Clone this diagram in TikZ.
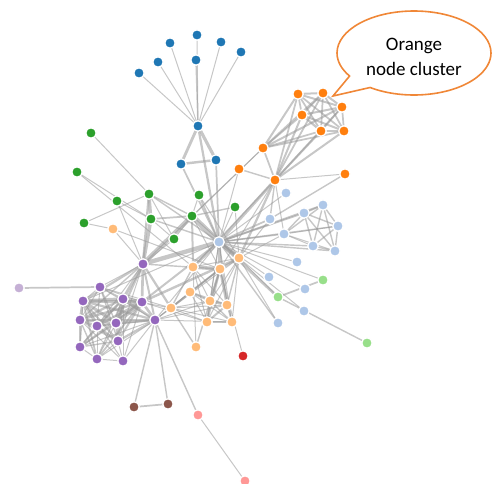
\documentclass[tikz,border=0pt]{standalone}
\usepackage{fontspec}
\newfontfamily\callfont{Carlito}
\usetikzlibrary{backgrounds,shapes.callouts}
\definecolor{cA}{RGB}{31,119,180}
\definecolor{cB}{RGB}{174,199,232}
\definecolor{cC}{RGB}{255,127,14}
\definecolor{cD}{RGB}{255,187,120}
\definecolor{cE}{RGB}{44,160,44}
\definecolor{cF}{RGB}{152,223,138}
\definecolor{cG}{RGB}{214,39,40}
\definecolor{cH}{RGB}{255,152,150}
\definecolor{cI}{RGB}{148,103,189}
\definecolor{cJ}{RGB}{197,176,213}
\definecolor{cK}{RGB}{140,86,75}
\definecolor{linkgray}{RGB}{153,153,153}
\definecolor{bubble}{RGB}{240,135,55}
\tikzset{
  dot/.style={circle, minimum size=10.5pt, inner sep=0pt, draw=white, line width=1.3pt},
  link/.style={draw=linkgray, opacity=0.55},
}
\begin{document}
\begin{tikzpicture}[x=1pt,y=-1pt]
\useasboundingbox (0,0) rectangle (493,483);
% nodes
\foreach \n/\px/\py/\c in {
Myriel/198/126/cA, Napoleon/197/35/cA, MlleBaptistine/181/164/cA, MmeMagloire/216/160/cA,
CountessDeLo/170/43/cA, Geborand/221/42/cA, Champtercier/241/52/cA, Cravatte/158/62/cA,
Count/196/60/cA, OldMan/139/73/cA,
Labarre/286/193/cB, Valjean/219/242/cB, MmeDeR/297/262/cB, Isabeau/269/277/cB, Gervais/305/289/cB,
Bamatabois/284/234/cB, Simplice/270/219/cB, Scaufflaire/304/311/cB, Woman1/278/323/cB,
Judge/304/213/cB, Champmathieu/323/205/cB, Brevet/338/226/cB, Chenildieu/313/246/cB, Cochepaille/335/251/cB,
Marguerite/239/169/cC, Tholomyes/263/148/cC, Listolier/298/94/cC, Fameuil/323/93/cC,
Blacheville/342/107/cC, Favourite/302/115/cC, Dahlia/321/131/cC, Zephine/344/131/cC,
Fantine/275/180/cC, Perpetue/345/174/cC,
MmeThenardier/193/267/cD, Thenardier/220/269/cD, Javert/239/258/cD, Pontmercy/113/229/cD,
Eponine/171/308/cD, Anzelma/196/347/cD, Gueulemer/210/301/cD, Babet/227/305/cD,
Claquesous/207/322/cD, Montparnasse/232/322/cD, Brujon/190/292/cD,
Cosette/192/216/cE, Woman2/199/195/cE, Gillenormand/151/219/cE, Magnon/77/172/cE,
MlleGillenormand/149/194/cE, MmePontmercy/84/223/cE, MlleVaubois/91/133/cE,
LtGillenormand/174/239/cE, BaronessT/117/201/cE, Toussaint/235/207/cE,
Fauchelevent/278/297/cF, MotherInnocent/323/280/cF, Gribier/367/343/cF,
Boulatruelle/243/356/cG,
Jondrette/245/481/cH, MmeBurgon/198/415/cH,
Gavroche/155/320/cI, Marius/143/264/cI, Mabeuf/100/287/cI, Enjolras/142/302/cI,
Combeferre/116/323/cI, Prouvaire/80/347/cI, Feuilly/97/326/cI, Courfeyrac/123/299/cI,
Bahorel/118/341/cI, Bossuet/83/301/cI, Joly/80/320/cI, Grantaire/97/359/cI, MmeHucheloup/123/361/cI,
MotherPlutarch/19/288/cJ,
Child1/134/407/cK, Child2/168/404/cK}
{\node[dot, fill=\c] (\n) at (\px,\py) {};}
% links
\begin{pgfonlayer}{background}
\foreach \s/\t/\v in {
Napoleon/Myriel/1, MlleBaptistine/Myriel/8, MmeMagloire/Myriel/10, MmeMagloire/MlleBaptistine/6,
CountessDeLo/Myriel/1, Geborand/Myriel/1, Champtercier/Myriel/1, Cravatte/Myriel/1, Count/Myriel/2, OldMan/Myriel/1,
Valjean/Labarre/1, Valjean/MmeMagloire/3, Valjean/MlleBaptistine/3, Valjean/Myriel/5, Marguerite/Valjean/1,
MmeDeR/Valjean/1, Isabeau/Valjean/1, Gervais/Valjean/1,
Listolier/Tholomyes/4, Fameuil/Tholomyes/4, Fameuil/Listolier/4, Blacheville/Tholomyes/4, Blacheville/Listolier/4,
Blacheville/Fameuil/4, Favourite/Tholomyes/3, Favourite/Listolier/3, Favourite/Fameuil/3, Favourite/Blacheville/4,
Dahlia/Tholomyes/3, Dahlia/Listolier/3, Dahlia/Fameuil/3, Dahlia/Blacheville/3, Dahlia/Favourite/5,
Zephine/Tholomyes/3, Zephine/Listolier/3, Zephine/Fameuil/3, Zephine/Blacheville/3, Zephine/Favourite/4, Zephine/Dahlia/4,
Fantine/Tholomyes/3, Fantine/Listolier/3, Fantine/Fameuil/3, Fantine/Blacheville/3, Fantine/Favourite/4,
Fantine/Dahlia/4, Fantine/Zephine/4, Fantine/Marguerite/2, Fantine/Valjean/9,
MmeThenardier/Fantine/2, MmeThenardier/Valjean/7, Thenardier/MmeThenardier/13, Thenardier/Fantine/1,
Thenardier/Valjean/12, Cosette/MmeThenardier/4, Cosette/Valjean/31, Cosette/Tholomyes/1, Cosette/Thenardier/1,
Javert/Valjean/17, Javert/Fantine/5, Javert/Thenardier/5, Javert/MmeThenardier/1, Javert/Cosette/1,
Fauchelevent/Valjean/8, Fauchelevent/Javert/1, Bamatabois/Fantine/1, Bamatabois/Javert/1, Bamatabois/Valjean/2,
Perpetue/Fantine/1, Simplice/Perpetue/2, Simplice/Valjean/3, Simplice/Fantine/2, Simplice/Javert/1,
Scaufflaire/Valjean/1, Woman1/Valjean/2, Woman1/Javert/1, Judge/Valjean/3, Judge/Bamatabois/2,
Champmathieu/Valjean/3, Champmathieu/Judge/3, Champmathieu/Bamatabois/2, Brevet/Judge/2, Brevet/Champmathieu/2,
Brevet/Valjean/2, Brevet/Bamatabois/1, Chenildieu/Judge/2, Chenildieu/Champmathieu/2, Chenildieu/Brevet/2,
Chenildieu/Valjean/2, Chenildieu/Bamatabois/1, Cochepaille/Judge/2, Cochepaille/Champmathieu/2, Cochepaille/Brevet/2,
Cochepaille/Chenildieu/2, Cochepaille/Valjean/2, Cochepaille/Bamatabois/1,
Pontmercy/Thenardier/1, Boulatruelle/Thenardier/1, Eponine/MmeThenardier/2, Eponine/Thenardier/3,
Anzelma/Eponine/2, Anzelma/Thenardier/2, Anzelma/MmeThenardier/1, Woman2/Valjean/3, Woman2/Cosette/1, Woman2/Javert/1,
MotherInnocent/Fauchelevent/3, MotherInnocent/Valjean/1, Gribier/Fauchelevent/2, MmeBurgon/Jondrette/1,
Gavroche/MmeBurgon/2, Gavroche/Thenardier/1, Gavroche/Javert/1, Gavroche/Valjean/1, Gillenormand/Cosette/3,
Gillenormand/Valjean/2, Magnon/Gillenormand/1, Magnon/MmeThenardier/1, MlleGillenormand/Gillenormand/9,
MlleGillenormand/Cosette/2, MlleGillenormand/Valjean/2, MmePontmercy/MlleGillenormand/1, MmePontmercy/Pontmercy/1,
MlleVaubois/MlleGillenormand/1, LtGillenormand/MlleGillenormand/1, LtGillenormand/Gillenormand/1, LtGillenormand/Cosette/1,
Marius/MlleGillenormand/6, Marius/Gillenormand/12, Marius/Pontmercy/1, Marius/LtGillenormand/1, Marius/Cosette/21,
Marius/Valjean/19, Marius/Tholomyes/1, Marius/Thenardier/2, Marius/Eponine/5, Marius/Gavroche/4,
BaronessT/Gillenormand/1, BaronessT/Marius/1, Mabeuf/Marius/1, Mabeuf/Eponine/1, Mabeuf/Gavroche/1,
Enjolras/Marius/7, Enjolras/Gavroche/7, Enjolras/Javert/6, Enjolras/Mabeuf/1, Enjolras/Valjean/4,
Combeferre/Enjolras/15, Combeferre/Marius/5, Combeferre/Gavroche/6, Combeferre/Mabeuf/2,
Prouvaire/Gavroche/1, Prouvaire/Enjolras/4, Prouvaire/Combeferre/2, Feuilly/Gavroche/2, Feuilly/Enjolras/6,
Feuilly/Prouvaire/2, Feuilly/Combeferre/5, Feuilly/Mabeuf/1, Feuilly/Marius/1, Courfeyrac/Marius/9,
Courfeyrac/Enjolras/17, Courfeyrac/Combeferre/13, Courfeyrac/Gavroche/7, Courfeyrac/Mabeuf/2, Courfeyrac/Eponine/1,
Courfeyrac/Feuilly/6, Courfeyrac/Prouvaire/3, Bahorel/Combeferre/5, Bahorel/Gavroche/5, Bahorel/Courfeyrac/6,
Bahorel/Mabeuf/2, Bahorel/Enjolras/4, Bahorel/Feuilly/3, Bahorel/Prouvaire/2, Bahorel/Marius/1,
Bossuet/Marius/5, Bossuet/Courfeyrac/12, Bossuet/Gavroche/5, Bossuet/Bahorel/4, Bossuet/Enjolras/10,
Bossuet/Feuilly/6, Bossuet/Prouvaire/2, Bossuet/Combeferre/9, Bossuet/Mabeuf/1, Bossuet/Valjean/1,
Joly/Bahorel/5, Joly/Bossuet/7, Joly/Gavroche/3, Joly/Courfeyrac/5, Joly/Enjolras/5, Joly/Feuilly/5,
Joly/Prouvaire/2, Joly/Combeferre/5, Joly/Mabeuf/1, Joly/Marius/2, Grantaire/Bossuet/3, Grantaire/Enjolras/3,
Grantaire/Combeferre/1, Grantaire/Courfeyrac/2, Grantaire/Joly/2, Grantaire/Gavroche/1, Grantaire/Bahorel/1,
Grantaire/Feuilly/1, Grantaire/Prouvaire/1, MotherPlutarch/Mabeuf/3,
Gueulemer/Thenardier/5, Gueulemer/Valjean/1, Gueulemer/MmeThenardier/1, Gueulemer/Javert/1, Gueulemer/Gavroche/1,
Gueulemer/Eponine/1, Babet/Thenardier/6, Babet/Gueulemer/6, Babet/Valjean/1, Babet/MmeThenardier/1, Babet/Javert/2,
Babet/Gavroche/1, Babet/Eponine/1, Claquesous/Thenardier/4, Claquesous/Babet/4, Claquesous/Gueulemer/4,
Claquesous/Valjean/1, Claquesous/MmeThenardier/1, Claquesous/Javert/1, Claquesous/Eponine/1, Claquesous/Enjolras/1,
Montparnasse/Javert/1, Montparnasse/Babet/2, Montparnasse/Gueulemer/2, Montparnasse/Claquesous/2,
Montparnasse/Valjean/1, Montparnasse/Gavroche/1, Montparnasse/Eponine/1, Montparnasse/Thenardier/1,
Toussaint/Cosette/2, Toussaint/Javert/1, Toussaint/Valjean/1, Child1/Gavroche/2, Child2/Gavroche/2, Child2/Child1/3,
Brujon/Babet/3, Brujon/Gueulemer/3, Brujon/Thenardier/3, Brujon/Gavroche/1, Brujon/Eponine/1, Brujon/Claquesous/1,
Brujon/Montparnasse/1, MmeHucheloup/Bossuet/1, MmeHucheloup/Joly/1, MmeHucheloup/Grantaire/1, MmeHucheloup/Bahorel/1,
MmeHucheloup/Courfeyrac/1, MmeHucheloup/Gavroche/1, MmeHucheloup/Enjolras/1}
{\pgfmathsetmacro\w{sqrt(\v)}
 \draw[link, line width=\w pt] (\s.center) -- (\t.center);}
\end{pgfonlayer}
% callout
\node[ellipse callout, draw=bubble, line width=1.6pt, fill=white,
      minimum width=154pt, minimum height=84pt, inner sep=0pt,
      callout absolute pointer={(333,96)}, callout pointer arc=22] (note) at (414,53) {};
\node[align=center, inner sep=0pt, font=\callfont\fontsize{19}{25}\selectfont]
      (notetext) at ([yshift=-4pt]note.center) {Orange\\node cluster};
\end{tikzpicture}
\end{document}
